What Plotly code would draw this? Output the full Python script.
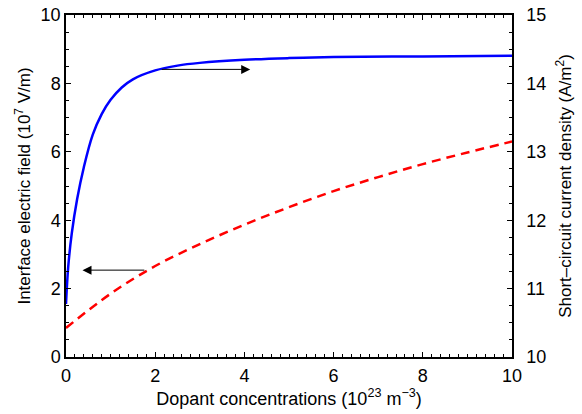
import plotly.graph_objects as go

# Short-circuit current density (right axis, A/m^2) vs dopant concentration
jsc_x = [0, 0.05, 0.13, 0.25, 0.4, 0.6, 0.8, 1, 1.25, 1.5, 2, 2.5, 3, 4, 5, 6, 8, 10]
jsc_y = [10.775, 11.32, 11.81, 12.31, 12.775, 13.25, 13.55, 13.76, 13.94, 14.06, 14.19, 14.26, 14.3,
         14.345, 14.37, 14.385, 14.395, 14.405]

# Interface electric field (left axis, 10^7 V/m)
field_x = [0, 1, 2, 3, 4, 5, 6, 7, 8, 9, 10]
field_y = [0.85, 1.85, 2.66, 3.3, 3.87, 4.38, 4.85, 5.26, 5.64, 5.98, 6.3]

x_ticks = [0, 2, 4, 6, 8, 10]
y_left_ticks = [0, 2, 4, 6, 8, 10]
y_right_ticks = [10, 11, 12, 13, 14, 15]

font_family = "Liberation Sans, Arial, sans-serif"

fig = go.Figure()
fig.add_trace(go.Scatter(x=field_x, y=field_y, mode="lines",
                         line=dict(color="#ff0000", width=2.5, dash="9px,6px", shape="spline"),
                         yaxis="y", showlegend=False, hoverinfo="skip"))
fig.add_trace(go.Scatter(x=jsc_x, y=jsc_y, mode="lines",
                         line=dict(color="#0000ff", width=2.5, shape="spline"),
                         yaxis="y2", showlegend=False, hoverinfo="skip"))

axis_common = dict(showline=True, linecolor="black", linewidth=1.5, ticks="inside",
                   tickcolor="black", ticklen=5, tickwidth=1, showgrid=False, zeroline=False,
                   automargin=False,
                   tickfont=dict(family=font_family, size=18, color="black"))

fig.update_layout(
    width=582, height=414,
    margin=dict(l=66, r=70, t=15, b=57),
    paper_bgcolor="white", plot_bgcolor="white",
    font=dict(family=font_family, color="black"),
    xaxis=dict(range=[0, 10], tickvals=x_ticks, mirror="ticks", ticklabelstandoff=2,
               minor=dict(dtick=0.2, ticks="inside", ticklen=3, tickcolor="black"),
               title=dict(text="Dopant concentrations (10<sup>23</sup> m<sup>−3</sup>)",
                          font=dict(size=18, family=font_family), standoff=1),
               **axis_common),
    yaxis=dict(range=[0, 10], tickvals=y_left_ticks, ticklabelstandoff=0,
               minor=dict(dtick=0.5, ticks="inside", ticklen=3, tickcolor="black"),
               title=dict(text="Interface electric field (10<sup>7</sup> V/m)",
                          font=dict(size=17, family=font_family), standoff=6),
               **axis_common),
    yaxis2=dict(range=[10, 15], tickvals=y_right_ticks, overlaying="y", side="right",
                ticklabelstandoff=9,
                minor=dict(dtick=0.25, ticks="inside", ticklen=3, tickcolor="black"),
                title=dict(text="Short–circuit current density (A/m<sup>2</sup>)",
                           font=dict(size=17, family=font_family), standoff=14),
                **axis_common),
)

fig.add_annotation(x=4.13, y=8.41, ax=2.11, ay=8.41, xref="x", yref="y", axref="x", ayref="y",
                   text="", showarrow=True, arrowhead=2, arrowsize=1.8, arrowwidth=1, arrowcolor="black")
fig.add_annotation(x=0.37, y=2.54, ax=1.79, ay=2.54, xref="x", yref="y", axref="x", ayref="y",
                   text="", showarrow=True, arrowhead=2, arrowsize=1.8, arrowwidth=1, arrowcolor="black")

fig.write_html("out.html", config={"displayModeBar": False},
               post_script="document.body.style.margin='0';")
